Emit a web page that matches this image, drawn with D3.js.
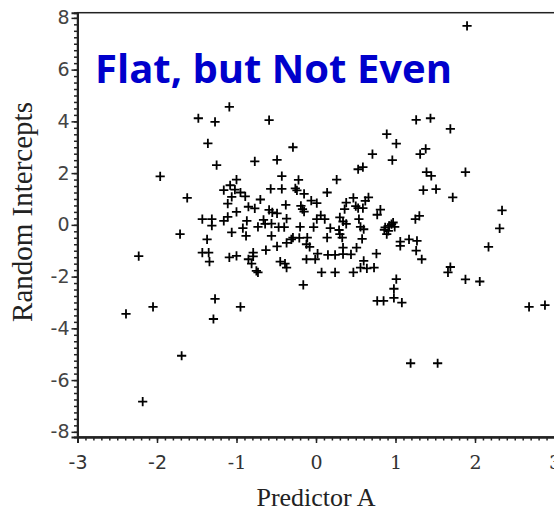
<!DOCTYPE html>
<html lang="en">

<head>
    <meta charset="UTF-8">
    <title>Flat, but Not Even</title>
    <style>
        body { margin: 0; background: #fff; }
        svg { display: block; }
    </style>
</head>

<body>
    <script src="https://cdn.jsdelivr.net/npm/d3@7/dist/d3.min.js"></script>
    <script>
        // values
        var predictorA = [
            1.90, -1.09, -1.48, -1.27, -0.59, -1.36, -0.29, -1.25, -1.96, -1.62,
            -0.77, -0.49, 0.89, 0.71, 0.53, 0.59, 1.26, 1.44, 1.69, 1.01,
            1.38, 1.31, 0.96, 1.39, 1.45, 1.88, 1.35, 1.51, 1.72, 2.34,
            2.31, 2.17, 1.69, 1.66, 1.88, 2.06, 2.68, 2.88, 1.19, 1.53,
            -1.69, -2.18, -2.39, -2.05, -0.95, -1.27, -1.29, -2.23, -1.71, -0.16,
            0.77, 0.85, 0.98, 1.08, 1.01, 0.98, 1.30, 1.25, 1.06, 1.06,
            1.17, 1.27, 1.26, 1.33, 0.87, 0.91, 0.95, 0.99, 0.89, 0.97,
            0.92, 0.86, 0.81, 0.77, 0.76, 0.73, 0.64, 0.56, 0.60, 0.62,
            0.66, -1.00, -1.08, -1.16, -1.02, -0.95, -1.06, -0.89, -1.11, -0.85,
            -1.00, -1.43, -1.31, -1.31, -1.16, -1.11, -0.87, -1.37, -1.06, -0.92,
            -0.88, -1.43, -1.35, -1.34, -1.09, -1.00, -0.85, -0.81, -0.79, -0.75,
            -0.73, -0.43, -0.22, 0.26, -0.57, -0.43, -0.26, -0.24, -0.15, 0.14,
            -0.70, -0.06, 0.01, 0.47, 0.38, -0.38, -0.19, -0.17, -0.15, -0.77,
            -0.59, -0.55, -0.49, 0.36, 0.50, 0.53, 0.59, -0.66, -0.37, 0.06,
            0.01, 0.11, 0.30, 0.34, 0.38, 0.54, -0.73, -0.64, -0.56, -0.47,
            -0.40, -0.20, -0.03, 0.18, 0.29, 0.56, 0.60, -0.56, -0.29, -0.31,
            -0.21, -0.11, 0.14, 0.30, 0.33, -0.37, -0.49, -0.12, -0.08, -0.63,
            -0.79, 0.34, 0.51, 0.58, -0.45, -0.39, -0.37, -0.12, -0.01, 0.02,
            0.15, 0.24, 0.44, 0.34, 0.07, 0.24, 0.47
        ];
        var intercepts = [
            7.69, 4.56, 4.12, 3.98, 4.05, 3.15, 3.00, 2.31, 1.87, 1.04,
            2.45, 2.51, 3.51, 2.73, 2.15, 2.23, 4.06, 4.12, 3.71, 3.14,
            2.94, 2.73, 2.50, 2.04, 1.89, 2.04, 1.34, 1.38, 1.06, 0.56,
            -0.14, -0.85, -1.63, -1.84, -2.11, -2.19, -3.17, -3.10, -5.35, -5.35,
            -5.06, -6.83, -3.44, -3.17, -3.17, -2.86, -3.64, -1.21, -0.36, -2.32,
            -2.94, -2.94, -2.82, -3.01, -2.10, -2.47, 0.35, 0.22, -0.65, -0.81,
            -0.56, -0.62, -1.00, -1.33, -0.10, -0.23, 0.03, -0.08, -0.36, 0.09,
            -0.04, -0.19, 0.59, 0.39, -1.11, -1.65, -1.68, -1.65, -1.39, 0.93,
            1.06, 1.75, 1.53, 1.34, 1.36, 1.25, 1.08, 1.10, 0.82, 0.70,
            0.50, 0.22, 0.22, -0.03, 0.15, 0.31, 0.15, -0.56, -0.29, -0.13,
            -0.43, -1.07, -1.07, -1.42, -1.26, -1.20, -1.33, -1.50, -1.22, -1.78,
            -1.84, 1.88, 1.74, 1.75, 1.39, 1.39, 1.41, 1.33, 1.20, 1.25,
            0.98, 0.94, 0.84, 1.04, 0.86, 0.77, 0.73, 0.61, 0.51, 0.64,
            0.58, 0.48, 0.44, 0.61, 0.72, 0.65, 0.65, 0.19, 0.24, 0.37,
            0.22, 0.22, 0.29, 0.13, 0.04, 0.22, -0.08, 0.04, 0.05, -0.09,
            -0.09, -0.08, -0.09, -0.13, -0.20, -0.08, -0.17, -0.43, -0.49, -0.56,
            -0.50, -0.49, -0.49, -0.36, -0.49, -0.70, -0.83, -0.75, -0.85, -0.98,
            -1.07, -0.88, -0.88, -0.54, -1.42, -1.50, -1.65, -1.33, -1.33, -1.11,
            -1.16, -1.16, -1.14, -1.13, -1.84, -1.84, -1.84
        ];
        var xTicks = [-3, -2, -1, 0, 1, 2, 3];
        var yTicks = [-8, -6, -4, -2, 0, 2, 4, 6, 8];
        var title = "Flat, but Not Even";
        var xLabel = "Predictor A";
        var yLabel = "Random Intercepts";

        var W = 554, H = 513;
        var mLeft = 77.5, mTop = 12.7, mBottom = 437;

        var svg = d3.select("body").append("svg").attr("width", W).attr("height", H);

        var x = d3.scaleLinear().domain([-3, 3]).range([mLeft, 554.5]);
        var y = d3.scaleLinear().domain([-8.2, 8.2]).range([mBottom, mTop]);
        var fmt = function (d) { return String(d); }; // plain hyphen minus

        // frame
        svg.append("rect").attr("x", mLeft).attr("y", mTop)
            .attr("width", 600).attr("height", mBottom - mTop)
            .attr("fill", "none").attr("stroke", "#222").attr("stroke-width", 1.5);

        // minor ticks
        var xMinor = d3.range(-30, 31).map(function (d) { return d / 10; });
        var yMinor = d3.range(-32, 33).map(function (d) { return d / 4; });

        var gxm = svg.append("g").attr("transform", "translate(0," + mBottom + ")")
            .call(d3.axisBottom(x).tickValues(xMinor).tickSize(3.5).tickFormat(""));
        var gym = svg.append("g").attr("transform", "translate(" + mLeft + ",0)")
            .call(d3.axisLeft(y).tickValues(yMinor).tickSize(3.5).tickFormat(""));

        var gx = svg.append("g").attr("transform", "translate(0," + mBottom + ")")
            .call(d3.axisBottom(x).tickValues(xTicks).tickSize(6).tickPadding(13).tickFormat(fmt));
        var gy = svg.append("g").attr("transform", "translate(" + mLeft + ",0)")
            .call(d3.axisLeft(y).tickValues(yTicks).tickSize(6).tickPadding(2).tickFormat(fmt));

        [gxm, gym, gx, gy].forEach(function (g) {
            g.selectAll("path.domain").attr("stroke", "#222").attr("stroke-width", 2);
            g.selectAll(".tick line").attr("stroke", "#222").attr("stroke-width", 1.5);
        });

        gy.selectAll(".tick text")
            .attr("font-family", "DejaVu Sans, sans-serif").attr("font-size", 19).attr("fill", "#444");
        gx.selectAll(".tick text")
            .attr("font-family", function (d) { return d < -1 ? "DejaVu Sans, sans-serif" : "DejaVu Serif, serif"; })
            .attr("font-size", 19).attr("fill", "#333");

        // points
        var pts = predictorA.map(function (d, i) { return [d, intercepts[i]]; });
        svg.append("g").selectAll("path").data(pts).enter().append("path")
            .attr("transform", function (d) { return "translate(" + x(d[0]) + "," + y(d[1]) + ")"; })
            .attr("d", "M-4.6,0H4.6M0,-4.6V4.6")
            .attr("stroke", "#000").attr("stroke-width", 1.8).attr("fill", "none");

        // axis labels
        svg.append("text").attr("x", 316).attr("y", 506)
            .attr("text-anchor", "middle")
            .attr("font-family", "Liberation Serif, serif").attr("font-size", 26).attr("fill", "#222")
            .text(xLabel);
        svg.append("text").attr("transform", "translate(32,212) rotate(-90)")
            .attr("text-anchor", "middle")
            .attr("font-family", "Liberation Serif, serif").attr("font-size", 29).attr("fill", "#222")
            .text(yLabel);

        // title
        svg.append("text").attr("x", 95).attr("y", 83)
            .attr("font-family", "Open Sans, sans-serif").attr("font-weight", 700)
            .attr("font-size", 40).attr("fill", "#0000cc")
            .text(title);
    </script>
</body>

</html>
